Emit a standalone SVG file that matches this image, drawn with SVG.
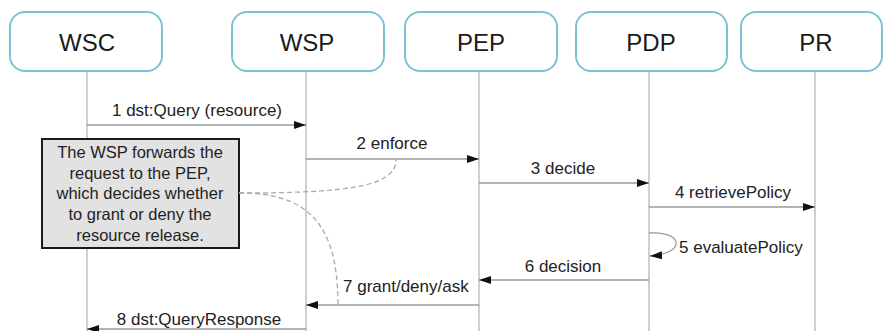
<svg xmlns="http://www.w3.org/2000/svg" width="883" height="331" viewBox="0 0 883 331">
<defs>
<marker id="ah" viewBox="0 0 12 8" refX="12" refY="4" markerWidth="12" markerHeight="8" markerUnits="userSpaceOnUse" orient="auto">
<path d="M0,0 L12,4 L0,8 z" fill="#111"/>
</marker>
<style>
.box{fill:#fff;stroke:#7cc2d6;stroke-width:2}
.lbl{font-family:"Liberation Sans",Arial,sans-serif;font-size:24px;fill:#1a1a1a;text-anchor:middle}
.life{stroke:#b5b5b5;stroke-width:1.3;fill:none}
.msg{stroke:#9a9a9a;stroke-width:1.3;fill:none;marker-end:url(#ah)}
.t{font-family:"Liberation Sans",Arial,sans-serif;font-size:17px;fill:#222}
.n{font-family:"Liberation Sans",Arial,sans-serif;font-size:16.5px;fill:#222;text-anchor:middle}
.dash{stroke:#aaa;stroke-width:1.3;fill:none;stroke-dasharray:5,3}
</style>
</defs>
<rect width="883" height="331" fill="#fff"/>
<g id="lifelines">
<line class="life" x1="87" y1="72" x2="87" y2="331"/>
<line class="life" x1="306" y1="72" x2="306" y2="331"/>
<line class="life" x1="479" y1="72" x2="479" y2="331"/>
<line class="life" x1="649" y1="72" x2="649" y2="331"/>
<line class="life" x1="815" y1="72" x2="815" y2="331"/>
</g>
<g id="WSC"><rect class="box" x="10" y="12" width="152" height="59" rx="15"/><text class="lbl" x="87" y="50.5">WSC</text></g>
<g id="WSP"><rect class="box" x="232" y="12" width="152" height="59" rx="15"/><text class="lbl" x="307" y="50.5">WSP</text></g>
<g id="PEP"><rect class="box" x="405" y="12" width="152" height="59" rx="15"/><text class="lbl" x="481" y="50.5">PEP</text></g>
<g id="PDP"><rect class="box" x="576" y="12" width="151" height="59" rx="15"/><text class="lbl" x="651" y="50.5">PDP</text></g>
<g id="PR"><rect class="box" x="741" y="12" width="141" height="59" rx="15"/><text class="lbl" x="816" y="50.5">PR</text></g>
<g id="note">
<rect x="42" y="139" width="197" height="109" fill="#e2e2e2" stroke="#1a1a1a" stroke-width="2"/>
<text class="n" x="140" y="158">The WSP forwards the</text>
<text class="n" x="140" y="179">request to the PEP,</text>
<text class="n" x="140" y="199">which decides whether</text>
<text class="n" x="140" y="220">to grant or deny the</text>
<text class="n" x="140" y="241">resource release.</text>
</g>
<g id="connectors">
<line class="msg" x1="87" y1="125" x2="306" y2="125"/>
<text class="t" text-anchor="middle" x="197" y="116">1 dst:Query (resource)</text>
<line class="msg" x1="306" y1="159" x2="479" y2="159"/>
<text class="t" text-anchor="middle" x="392" y="149">2 enforce</text>
<line class="msg" x1="479" y1="183" x2="649" y2="183"/>
<text class="t" text-anchor="middle" x="563" y="174">3 decide</text>
<line class="msg" x1="649" y1="207" x2="815" y2="207"/>
<text class="t" text-anchor="middle" x="733" y="198">4 retrievePolicy</text>
<path class="msg" d="M649,233 C685,231 685,254 650,256"/>
<text class="t" x="679" y="253">5 evaluatePolicy</text>
<line class="msg" x1="649" y1="280" x2="479" y2="280"/>
<text class="t" text-anchor="middle" x="563" y="272">6 decision</text>
<line class="msg" x1="479" y1="305" x2="306" y2="305"/>
<text class="t" x="343" y="292">7 grant/deny/ask</text>
<line class="msg" x1="306" y1="329" x2="87" y2="329"/>
<text class="t" text-anchor="middle" x="199" y="325">8 dst:QueryResponse</text>
<path class="dash" d="M239,193 C340,193 396,188 396,160"/>
<path class="dash" d="M239,193 C305,193 338,220 338,305"/>
</g>
</svg>
